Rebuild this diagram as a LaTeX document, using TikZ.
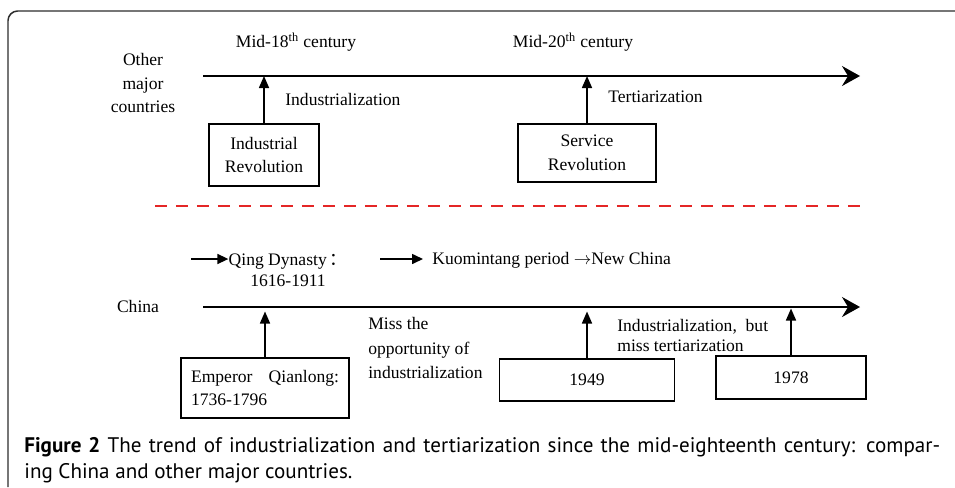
\documentclass[tikz,border=0pt]{standalone}
\usepackage{fontspec}
\setmainfont{Liberation Serif}
\newfontfamily\capfont{PT Sans}
\newfontfamily\cjk{Noto Sans CJK SC}
\usetikzlibrary{arrows.meta}
\definecolor{dashred}{RGB}{228,38,38}
\definecolor{framegray}{RGB}{45,45,45}

\begin{document}
\begin{tikzpicture}[x=0.02cm, y=-0.02cm,
  box/.style = {draw, line width=0.8pt, inner sep=0pt, align=center, font=\fontsize{10}{13.6}\selectfont},
  lbl/.style = {inner sep=0pt, font=\fontsize{10}{12}\selectfont},
  timeline/.style = {line width=1.1pt, -{Stealth[length=0.36cm, width=0.4cm, inset=0.12cm]}},
  uparrow/.style = {line width=0.9pt, -{Triangle[length=0.24cm, width=0.2cm]}},
  smallarrow/.style = {line width=0.9pt, -{Triangle[length=0.22cm, width=0.2cm]}}]

\useasboundingbox (0, 0) rectangle (955, 487);
\draw[framegray, line width=0.85pt, rounded corners=5.5pt] (955, 11) -- (8, 11) -- (8, 487);

% other major countries
\coordinate (topA) at (203, 76);
\coordinate (topB) at (860, 76);
\draw[timeline] (topA) -- (topB);

\node[lbl, align=center, font=\fontsize{10}{13.6}\selectfont] (other) at (143, 83) {Other\\major\\countries};
\node[lbl] (mid18) at (296, 42) {Mid-18\textsuperscript{th} century};
\node[lbl] (mid20) at (573, 42) {Mid-20\textsuperscript{th} century};

\node[box, minimum width=2.2cm, minimum height=1.24cm] (indrev) at (264, 155) {Industrial\\Revolution};
\node[box, minimum width=2.76cm, minimum height=1.16cm] (servrev) at (587, 153) {Service\\Revolution};

\draw[uparrow] (indrev.north) -- (indrev.north |- topA);
\draw[uparrow] (servrev.north) -- (servrev.north |- topA);

\node[lbl, anchor=west] (indz) at (285, 99) {Industrialization};
\node[lbl, anchor=west] (tertz) at (608, 97) {Tertiarization};

% divider
\coordinate (divA) at (155, 206);
\coordinate (divB) at (865, 206);
\draw[dashred, line width=1.7pt, dash pattern=on 0.24cm off 0.18cm] (divA) -- (divB);

% china
\coordinate (chA) at (203, 307);
\coordinate (chB) at (860, 307);
\draw[timeline] (chA) -- (chB);

\node[lbl] (china) at (138, 306) {China};

\node[lbl, align=center] (qing) at (288, 270) {Qing Dynasty\,{\cjk ：}\\1616-1911};
\coordinate (qingS) at (191, 259);
\draw[smallarrow] (qingS) -- (qingS -| qing.west);

\node[lbl, anchor=west] (kmt) at (432, 260) {Kuomintang period $\rightarrow$New China};
\coordinate (kmtS) at (380, 259);
\draw[smallarrow] (kmtS) -- ++(43, 0);

\node[box, minimum width=3.36cm, minimum height=1.2cm, align=left] (qianlong) at (265, 388) {\makebox[2.96cm][s]{Emperor Qianlong:}\\1736-1796};
\node[box, minimum width=3.5cm, minimum height=0.84cm] (y1949) at (587, 380) {1949};
\node[box, minimum width=3.0cm, minimum height=0.86cm] (y1978) at (791, 377.5) {1978};

\draw[uparrow, shorten >=0.09cm] (qianlong.north) -- (qianlong.north |- chA);
\draw[uparrow, shorten >=0.09cm] (y1949.north) -- (y1949.north |- chA);
\draw[uparrow, shorten >=0.03cm] (y1978.north) -- (y1978.north |- chA);

\node[lbl, anchor=west, align=left, font=\fontsize{10}{14.2}\selectfont] (miss) at (368, 348) {Miss the\\opportunity of\\industrialization};
\node[lbl, anchor=west, align=left, font=\fontsize{10}{11.4}\selectfont] (butmiss) at (617, 335) {Industrialization,~ but\\miss tertiarization};

% caption
\node[inner sep=0pt, anchor=north west, align=left, font=\capfont\fontsize{12}{14.9}\selectfont] (caption) at (24, 437)
  {\makebox[18.32cm][s]{\textbf{Figure 2} The trend of industrialization and tertiarization since the mid-eighteenth century: compar-}\\ing China and other major countries.};
\end{tikzpicture}
\end{document}
